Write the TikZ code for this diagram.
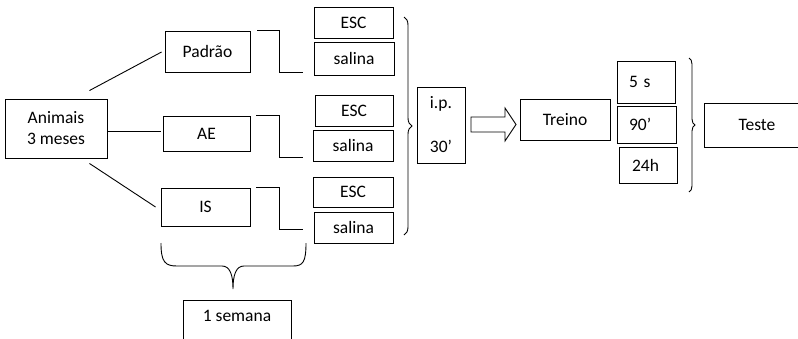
\documentclass[tikz,border=0pt]{standalone}
\usepackage{fontspec}
\setmainfont{Carlito}
\usetikzlibrary{decorations.pathreplacing}
\begin{document}
\begin{tikzpicture}[x=1pt,y=-1pt,line width=0.9pt,
  box/.style={draw,rectangle,inner sep=0pt,align=center,font=\fontsize{17.5pt}{21pt}\selectfont},
  lbox/.style={box,text width=#1,align=left},
  cbrace/.style={decorate,decoration={brace,amplitude=#1}}]
\useasboundingbox (0,0) rectangle (798,338);
% nodes
\node[box,minimum width=102pt,minimum height=59pt] (anim) at (56,128.5) {Animais\\3 meses};
\node[box,minimum width=85pt,minimum height=41pt] (pad) at (207.5,51.5) {Padrão};
\node[box,minimum width=87pt,minimum height=35pt] (ae) at (206.5,133.5) {AE};
\node[box,minimum width=89pt,minimum height=38pt] (is) at (205.5,207) {IS};
\node[box,minimum width=79pt,minimum height=31pt] (esc1) at (353.5,22.5) {ESC};
\node[box,minimum width=80pt,minimum height=33pt] (sal1) at (354,58.5) {salina};
\node[box,minimum width=78pt,minimum height=31pt] (esc2) at (354,110.5) {ESC};
\node[box,minimum width=80pt,minimum height=31pt] (sal2) at (353,145.5) {salina};
\node[box,minimum width=80pt,minimum height=30pt] (esc3) at (353,192) {ESC};
\node[box,minimum width=79pt,minimum height=31pt] (sal3) at (353.5,227.5) {salina};
\node[box,minimum width=48pt,minimum height=76pt] (ip) at (441,125) {i.p.\\[23pt]30’};
\node[box,minimum width=90pt,minimum height=41pt] (treino) at (565,119.5) {Treino};
\node[box,minimum width=58pt,minimum height=42pt,inner xsep=12pt,text width=34pt,align=left] (t5) at (646,82) {5 s};
\node[box,minimum width=59pt,minimum height=37pt,inner xsep=12pt,text width=35pt,align=left] (t90) at (646.5,124.5) {90’};
\node[box,minimum width=58pt,minimum height=36pt,inner xsep=13pt,text width=32pt,align=left] (t24) at (648,165) {24h};
\node[box,minimum width=106pt,minimum height=44pt] (teste) at (757,125) {Teste};
\node[box,anchor=north,minimum width=108pt,text height=21pt,text depth=20pt] (sem) at (237,300) {1 semana};
% connectors from Animais
\draw ([shift={(-18,-8)}]anim.north east) -- ([shift={(-3,0.5)}]pad.west);
\draw ([shift={(0,2.5)}]anim.east) -- ([shift={(-2,-2.5)}]ae.west);
\draw ([shift={(-18,5)}]anim.south east) -- ([shift={(-5,0)}]is.west);
% elbow connectors
\draw ([xshift=7pt]pad.north east) -- ++(22,0) |- ([shift={(-11,13.5)}]sal1.west);
\draw ([xshift=6pt]ae.north east) -- ++(23,0) |- ([shift={(-10,11.5)}]sal2.west);
\draw ([xshift=6pt]is.north east) -- ++(23,0) |- ([shift={(-11,1.5)}]sal3.west);
% braces
\draw[cbrace=8pt] (404,17) -- (404,235);
\draw[cbrace=6pt] (689,58) -- (689,192);
\draw (161,243) .. controls (161,262) and (165,266) .. (177,266) -- (222,266)
  .. controls (230,266) and (233,275) .. (233,289)
  .. controls (233,275) and (236,266) .. (244,266) -- (293,266)
  .. controls (303,266) and (306,262) .. (306,243);
% block arrow
\draw (471,117) -- (505,117) -- (505,108) -- (516,124.5) -- (505,141) -- (505,132) -- (471,132) -- cycle;
\end{tikzpicture}
\end{document}
